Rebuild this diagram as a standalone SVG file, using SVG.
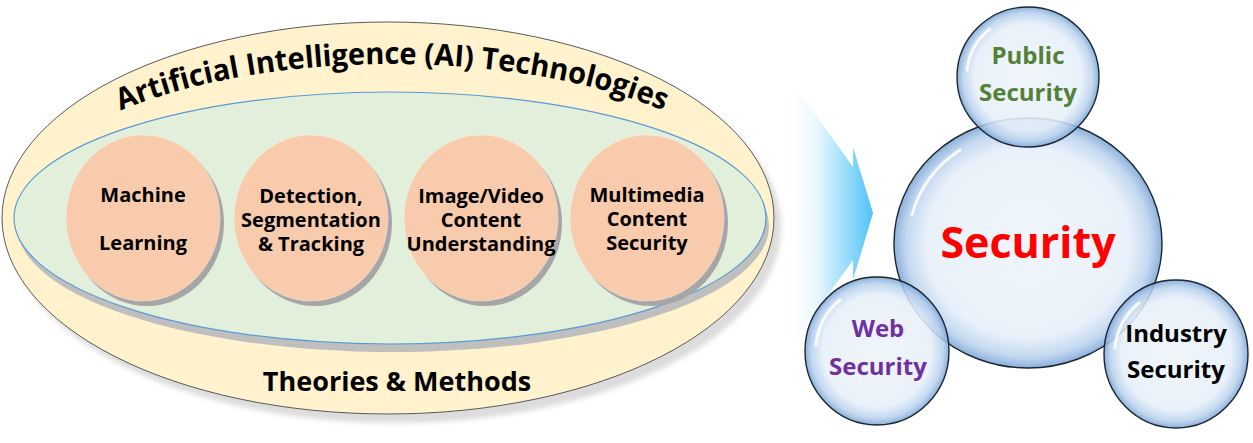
<svg xmlns="http://www.w3.org/2000/svg" width="1253" height="443" viewBox="0 0 1253 443">
<style>
  text { font-family: "Open Sans", "Liberation Sans", sans-serif; font-weight: bold; text-anchor: middle; }
  .ct { font-size: 20px; fill: #000; }
  .method { fill: #f8cbad; stroke: #ffffff; stroke-width: 0.8; stroke-dasharray: 1 1.5; }
  .mshadow { fill: #a6a6a6; }
  .bubble { fill: url(#bubbleGrad); stroke: #1c2530; stroke-width: 1.4; }
  .hl { fill: none; stroke: #ffffff; stroke-width: 3; stroke-linecap: round; opacity: 0.85; }
  .sat { font-size: 24px; }
</style>
<defs>
  <filter id="soft" x="-10%" y="-10%" width="120%" height="120%">
    <feGaussianBlur stdDeviation="2.5"/>
  </filter>
  <radialGradient id="bubbleGrad" cx="50%" cy="50%" r="50%">
    <stop offset="0" stop-color="#eef4fb" stop-opacity="0.9"/>
    <stop offset="0.76" stop-color="#e6eff9" stop-opacity="0.88"/>
    <stop offset="0.91" stop-color="#b8d1ed" stop-opacity="0.85"/>
    <stop offset="1" stop-color="#7ea8d8" stop-opacity="0.9"/>
  </radialGradient>
  <linearGradient id="arrowGrad" x1="780" y1="0" x2="874" y2="0" gradientUnits="userSpaceOnUse">
    <stop offset="0" stop-color="#ffffff" stop-opacity="0"/>
    <stop offset="0.4" stop-color="#e8f7fe"/>
    <stop offset="1" stop-color="#4cc2f7"/>
  </linearGradient>
  <path id="titleArc" d="M 13 218 A 379 154 0 0 1 771 218"/>
</defs>

<g id="theories">
  <ellipse cx="395" cy="227" rx="386" ry="196" fill="#dcdcdc" filter="url(#soft)"/>
  <ellipse cx="388" cy="218" rx="386" ry="196" fill="#fff2cc" stroke="#5a5a5a" stroke-width="1"/>
  <text font-size="30"><textPath href="#titleArc" startOffset="50%" textLength="554" lengthAdjust="spacingAndGlyphs">Artificial Intelligence (AI) Technologies</textPath></text>
  <text x="397" y="391" font-size="27">Theories &amp; Methods</text>
</g>

<g id="ai-technologies">
  <ellipse cx="393" cy="226" rx="376" ry="126" fill="#bfbfbf"/>
  <ellipse cx="390" cy="218" rx="376" ry="126" fill="#e2efda" stroke="#5b9bd5" stroke-width="1.2"/>
</g>

<g id="machine-learning">
  <ellipse class="mshadow" cx="147" cy="223" rx="77" ry="83"/>
  <ellipse class="method" cx="143" cy="218" rx="77" ry="83"/>
  <text class="ct" x="143" y="202">Machine</text>
  <text class="ct" x="143" y="250">Learning</text>
</g>
<g id="detection">
  <ellipse class="mshadow" cx="315" cy="223" rx="77" ry="83"/>
  <ellipse class="method" cx="311" cy="218" rx="77" ry="83"/>
  <text class="ct" x="311" y="203">Detection,</text>
  <text class="ct" x="311" y="227">Segmentation</text>
  <text class="ct" x="311" y="251">&amp; Tracking</text>
</g>
<g id="image-video">
  <ellipse class="mshadow" cx="485" cy="223" rx="77" ry="83"/>
  <ellipse class="method" cx="481" cy="218" rx="77" ry="83"/>
  <text class="ct" x="481" y="203">Image/Video</text>
  <text class="ct" x="481" y="227">Content</text>
  <text class="ct" x="481" y="251">Understanding</text>
</g>
<g id="multimedia">
  <ellipse class="mshadow" cx="651" cy="223" rx="77" ry="83"/>
  <ellipse class="method" cx="647" cy="218" rx="77" ry="83"/>
  <text class="ct" x="647" y="202">Multimedia</text>
  <text class="ct" x="647" y="226">Content</text>
  <text class="ct" x="647" y="250">Security</text>
</g>

<g id="connectors">
  <polygon points="770,56 793,83 853,167 853,147 873,213 853,280 853,260 793,343 770,370" fill="url(#arrowGrad)"/>
</g>

<g id="security">
  <ellipse class="bubble" cx="1028" cy="243" rx="134" ry="125"/>
  <path class="hl" d="M 912 215 A 118 110 0 0 1 960 150"/>
  <text x="1028" y="258" font-size="43" fill="#ff0000">Security</text>
</g>
<g id="public-security">
  <ellipse class="bubble" cx="1028" cy="77" rx="71" ry="70"/>
  <path class="hl" d="M 967 70 A 62 61 0 0 1 990 29"/>
  <text class="sat" x="1028" y="64" fill="#538135">Public</text>
  <text class="sat" x="1028" y="101" fill="#538135">Security</text>
</g>
<g id="web-security">
  <ellipse class="bubble" cx="877" cy="351" rx="72" ry="74"/>
  <path class="hl" d="M 816 345 A 63 65 0 0 1 840 300"/>
  <text class="sat" x="878" y="337" fill="#7030a0">Web</text>
  <text class="sat" x="878" y="375" fill="#7030a0">Security</text>
</g>
<g id="industry-security">
  <ellipse class="bubble" cx="1176" cy="354" rx="72" ry="74"/>
  <path class="hl" d="M 1115 348 A 63 65 0 0 1 1139 303"/>
  <text class="sat" x="1176" y="342" fill="#000000">Industry</text>
  <text class="sat" x="1176" y="378" fill="#000000">Security</text>
</g>
</svg>
